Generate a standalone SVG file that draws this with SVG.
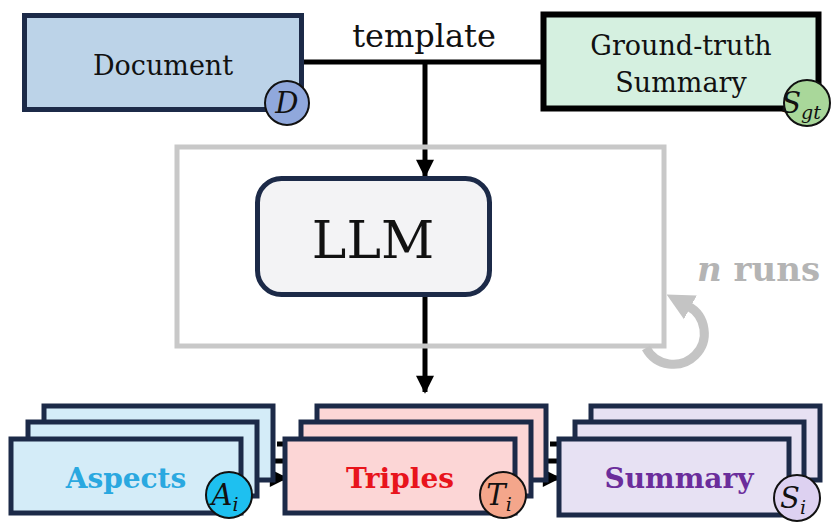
<svg xmlns="http://www.w3.org/2000/svg" width="831" height="527" viewBox="0 0 831 527">
  <defs>
    <marker id="arrow" viewBox="0 0 10 10" refX="9" refY="5" markerWidth="3.8" markerHeight="3.6" orient="auto" markerUnits="strokeWidth">
      <path d="M0,0 L10,5 L0,10 z" fill="#000"/>
    </marker>
    <marker id="arrow-gray" viewBox="0 0 10 10" refX="1" refY="5" markerWidth="3" markerHeight="3.2" orient="auto" markerUnits="strokeWidth">
      <path d="M0,0 L10,5 L0,10 z" fill="#c4c4c4"/>
    </marker>
    <style>
      .serif { font-family: "DejaVu Serif", "Liberation Serif", serif; }
      .label { font-size: 27px; fill: #111; text-anchor: middle; }
      .stackbox { stroke: #1c2a48; stroke-width: 5; }
      .aspect { fill: #d4ecf8; }
      .triple { fill: #fcd6d6; }
      .summ { fill: #e7e1f3; }
      .title { font-size: 28px; font-weight: bold; text-anchor: middle; }
      .badge { stroke: #111; stroke-width: 2; }
      .badgetext { font-family: "DejaVu Serif", "Liberation Serif", serif; font-style: italic; font-size: 29px; fill: #111; text-anchor: middle; }
      .wire { stroke: #000; stroke-width: 5; fill: none; }
    </style>
  </defs>

  <rect width="831" height="527" fill="#fff"/>

  <!-- connectors -->
  <g id="connectors">
    <path class="wire" d="M304,62 H541"/>
    <path class="wire" d="M425,62 V176" marker-end="url(#arrow)"/>
    <path class="wire" d="M425,296 V392" marker-end="url(#arrow)"/>
    <!-- aspects to triples -->
    <path class="wire" d="M277,444 H284"/>
    <path class="wire" d="M262,461 H284"/>
    <path class="wire" d="M245,478 H286" marker-end="url(#arrow)"/>
    <!-- triples to summary -->
    <path class="wire" d="M550,444 H558"/>
    <path class="wire" d="M535,461 H558"/>
    <path class="wire" d="M519,478 H559" marker-end="url(#arrow)"/>
  </g>

  <text class="serif" x="424" y="47" font-size="32" text-anchor="middle" fill="#111">template</text>

  <!-- input document -->
  <g id="document">
    <rect x="24.5" y="15.5" width="277" height="94" fill="#bcd3e8" stroke="#1c2a48" stroke-width="5"/>
    <text class="serif label" x="163" y="75">Document</text>
    <circle class="badge" cx="287" cy="103" r="22" fill="#90a8dc"/>
    <text class="badgetext" x="287" y="113">D</text>
  </g>

  <!-- reference summary -->
  <g id="ground-truth">
    <rect x="543.5" y="14.5" width="275" height="94" fill="#d5f0e0" stroke="#000" stroke-width="6"/>
    <text class="serif label" x="681" y="55">Ground-truth</text>
    <text class="serif label" x="681" y="92">Summary</text>
    <circle class="badge" cx="807" cy="103" r="23" fill="#a9d79a"/>
    <text class="badgetext" x="801" y="113">S<tspan font-size="19" dy="6">gt</tspan></text>
  </g>

  <!-- repeated runs frame -->
  <g id="runs">
    <rect x="177" y="147" width="487" height="199" fill="none" stroke="#c8c8c8" stroke-width="5"/>
    <path d="M646,348 A31,31 0 1 0 688,306" fill="none" stroke="#c4c4c4" stroke-width="9" marker-end="url(#arrow-gray)"/>
    <text class="serif" x="697" y="281" font-size="34" font-weight="bold" fill="#b4b4b4"><tspan font-style="italic">n</tspan> runs</text>
  </g>

  <g id="llm">
    <rect x="257.5" y="178.5" width="232" height="116" rx="24" fill="#f3f3f5" stroke="#1c2a48" stroke-width="5"/>
    <text class="serif" x="373" y="258" font-size="52" text-anchor="middle" fill="#111">LLM</text>
  </g>

  <!-- stacked outputs -->
  <g id="aspects">
    <rect class="stackbox aspect" x="44" y="406" width="229" height="74"/>
    <rect class="stackbox aspect" x="28" y="422" width="229" height="74"/>
    <rect class="stackbox aspect" x="11" y="439" width="230" height="74"/>
    <text class="serif title" x="126" y="488" fill="#2aa8e0">Aspects</text>
    <circle class="badge" cx="229" cy="495" r="23" fill="#1ec0f0"/>
    <text class="badgetext" x="225" y="505">A<tspan font-size="19" dy="6">i</tspan></text>
  </g>

  <g id="triples">
    <rect class="stackbox triple" x="317" y="406" width="229" height="74"/>
    <rect class="stackbox triple" x="301" y="422" width="230" height="74"/>
    <rect class="stackbox triple" x="285" y="439" width="230" height="74"/>
    <text class="serif title" x="400" y="488" fill="#e8141c">Triples</text>
    <circle class="badge" cx="503" cy="495" r="23" fill="#f4a68b"/>
    <text class="badgetext" x="499" y="505">T<tspan font-size="19" dy="6">i</tspan></text>
  </g>

  <g id="summary">
    <rect class="stackbox summ" x="591" y="406" width="229" height="74"/>
    <rect class="stackbox summ" x="575" y="422" width="229" height="74"/>
    <rect class="stackbox summ" x="559" y="439" width="230" height="76"/>
    <text class="serif title" x="679" y="488" fill="#6b2d9b">Summary</text>
    <circle class="badge" cx="797" cy="498" r="23" fill="#ddd1f1"/>
    <text class="badgetext" x="793" y="508">S<tspan font-size="19" dy="6">i</tspan></text>
  </g>
</svg>
